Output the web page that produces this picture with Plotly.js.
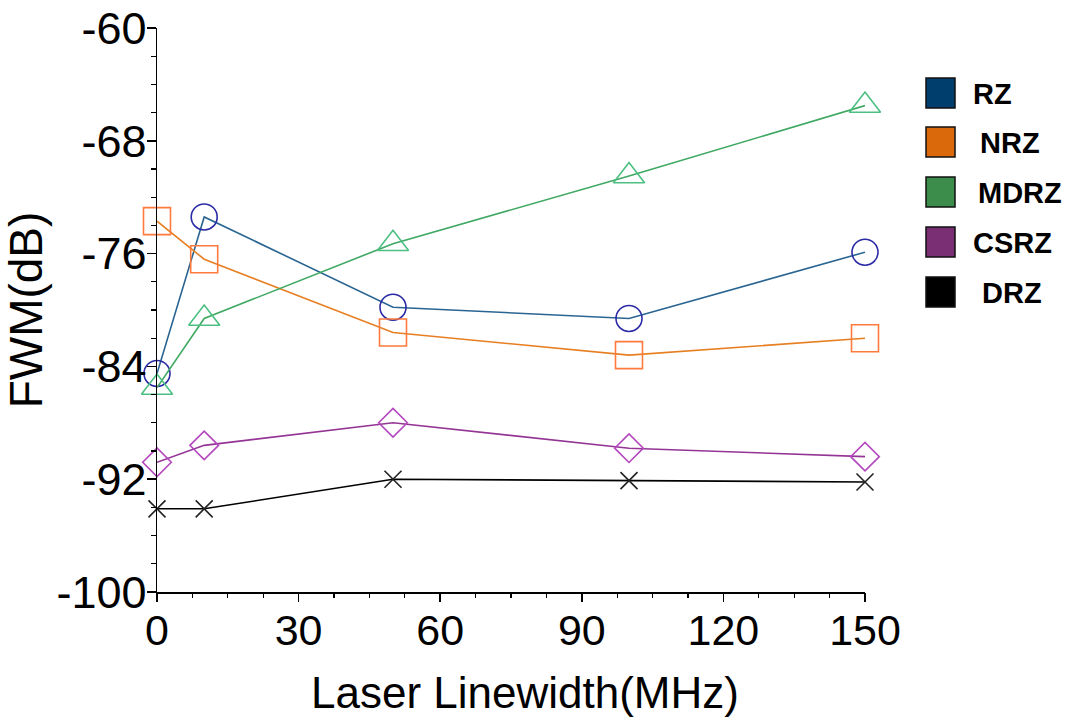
<!DOCTYPE html>
<html>
<head>
<meta charset="utf-8">
<script src="https://cdn.plot.ly/plotly-3.0.1.min.js"></script>
<style>html,body{margin:0;padding:0;background:#fff;}#chart{width:1082px;height:718px;}</style>
</head>
<body>
<div id="chart"></div>
<script>
// ---- data ----
var linewidth = [0, 10, 50, 100, 150];
var seriesNames = ["RZ", "NRZ", "MDRZ", "CSRZ", "DRZ"];
var rz   = [-84.5, -73.4, -79.8, -80.6, -75.9];
var nrz  = [-73.7, -76.4, -81.6, -83.2, -82.0];
var mdrz = [-85.5, -80.6, -75.3, -70.5, -65.5];
var csrz = [-90.8, -89.6, -88.0, -89.8, -90.4];
var drz  = [-94.1, -94.1, -92.0, -92.1, -92.2];
var xTicks = [0, 30, 60, 90, 120, 150];
var yTicks = [-100, -92, -84, -76, -68, -60];

// ---- styles ----
var lineColors   = ["#2a6592", "#e77f22", "#3fa862", "#943595", "#000000"];
var markerColors = ["#2b2ba6", "#ff7a3c", "#4cbf82", "#b347bd", "#222222"];
var legendColors = ["#003f6d", "#d9690a", "#3c8c4c", "#7a2f74", "#000000"];
var symbols = ["circle-open", "square-open", "triangle-up-open", "diamond-open", "x-thin-open"];
var sizes = [26, 27, 27, 22, 17];
var allY = [rz, nrz, mdrz, csrz, drz];

var traces = allY.map(function (ys, i) {
  return {
    x: linewidth, y: ys, name: seriesNames[i],
    type: "scatter", mode: "lines+markers", cliponaxis: false, showlegend: false,
    line: {color: lineColors[i], width: 1.6},
    marker: {symbol: symbols[i], size: sizes[i], color: markerColors[i],
             line: {color: markerColors[i], width: 1.6}}
  };
});
// empty trace that puts the tick-mark-only twin axes on the page
traces.push({x: [null], y: [null], xaxis: "x2", yaxis: "y2", type: "scatter", mode: "markers",
             showlegend: false, hoverinfo: "skip"});

// plot area in pixels
var L = 157, R = 865, T = 28, B = 592;
function px(xp) { return (xp - L) / (R - L); }
function py(yp) { return (B - yp) / (B - T); }

var legY = [93, 142, 192, 242, 292];
var legTextX = [973, 980, 978, 973, 982];
var shapes = [], annotations = [];
seriesNames.forEach(function (n, i) {
  shapes.push({type: "rect", xref: "paper", yref: "paper",
    x0: px(926), x1: px(955), y0: py(legY[i] + 15), y1: py(legY[i] - 15),
    fillcolor: legendColors[i], line: {color: "#111", width: 1.5}});
  annotations.push({xref: "paper", yref: "paper", x: px(legTextX[i] - 2), y: py(legY[i] + 1),
    xanchor: "left", yanchor: "middle", showarrow: false, text: "<b>" + n + "</b>",
    font: {family: "Liberation Sans, Arial, sans-serif", size: 29, color: "#000"}});
});
// x-axis title, centred where the reference puts it
annotations.push({xref: "paper", yref: "paper", x: px(525), y: py(692), xanchor: "center", yanchor: "middle",
  showarrow: false, text: "Laser Linewidth(MHz)",
  font: {family: "Liberation Sans, Arial, sans-serif", size: 44, color: "#000"}});

var tickOnly = {showgrid: false, zeroline: false, showticklabels: false, showline: false,
  ticks: "outside", ticklen: 9, tickwidth: 1.5, tickcolor: "#000"};

var layout = {
  width: 1082, height: 718,
  margin: {l: L, r: 1082 - R, t: T, b: 718 - B},
  paper_bgcolor: "#fff", plot_bgcolor: "#fff",
  showlegend: false,
  xaxis: {
    range: [0, 150], tickvals: xTicks, ticktext: xTicks.map(String),
    showgrid: false, zeroline: false, showline: true, linecolor: "#000", linewidth: 1.5,
    ticks: "", ticklabelstandoff: 0,
    tickfont: {family: "Liberation Sans, Arial, sans-serif", size: 43, color: "#000"}
  },
  yaxis: {
    range: [-100, -60], tickvals: yTicks, ticktext: yTicks.map(String),
    showgrid: false, zeroline: false, showline: true, linecolor: "#000", linewidth: 1.5,
    ticks: "", ticklabelstandoff: 0,
    tickfont: {family: "Liberation Sans, Arial, sans-serif", size: 45, color: "#000"},
    title: {text: "FWM(dB)", standoff: 14,
            font: {family: "Liberation Sans, Arial, sans-serif", size: 46, color: "#000"}}
  },
  xaxis2: Object.assign({}, tickOnly, {
    overlaying: "x", anchor: "y2", side: "bottom", range: [0, 150], tickvals: xTicks,
    minor: {dtick: 7.5, tick0: 0, ticks: "outside", ticklen: 5, tickwidth: 1.2, tickcolor: "#000", showgrid: false}
  }),
  yaxis2: Object.assign({}, tickOnly, {
    overlaying: "y", anchor: "x2", side: "left", range: [-100, -60], tickvals: yTicks,
    minor: {dtick: 2, tick0: -100, ticks: "outside", ticklen: 5, tickwidth: 1.2, tickcolor: "#000", showgrid: false}
  }),
  shapes: shapes,
  annotations: annotations
};

Plotly.newPlot("chart", traces, layout, {displayModeBar: false, staticPlot: true});
</script>
</body>
</html>
